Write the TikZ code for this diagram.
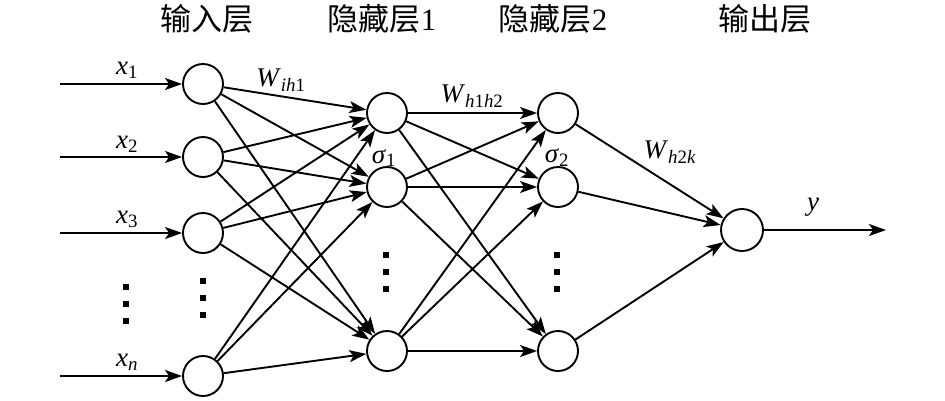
\documentclass[tikz,border=0pt]{standalone}
\usepackage{fontspec}
\setmainfont{Liberation Serif}
\newfontfamily\cjk{Noto Sans CJK SC}
\usetikzlibrary{arrows.meta}
\begin{document}
\begin{tikzpicture}[x=1pt,y=-1pt,
  neuron/.style={circle,draw,line width=1.9pt,minimum size=40pt,inner sep=0pt},
  conn/.style={line width=1.9pt,-{Stealth[length=17pt,width=12pt,inset=4pt]}},
  lbl/.style={font=\fontsize{27}{29}\selectfont,inner sep=0pt},
  ttl/.style={font=\fontsize{31}{33}\selectfont,inner sep=0pt},
  vdot/.style={fill=black}]
\useasboundingbox (0,0) rectangle (945,400);
% titles
\node[ttl] (t1) at (207,19) {\cjk 输入层};
\node[ttl] (t2) at (382,19) {{\cjk 隐藏层}1};
\node[ttl] (t3) at (553,19) {{\cjk 隐藏层}2};
\node[ttl] (t4) at (765,19) {\cjk 输出层};
% input neurons
\node[neuron] (i1) at (203,84) {};
\node[neuron] (i2) at (203,157) {};
\node[neuron] (i3) at (203,233) {};
\node[neuron] (i4) at (203,376) {};
% hidden 1
\node[neuron] (a1) at (387,113) {};
\node[neuron] (a2) at (387,187) {};
\node[neuron] (a3) at (387,351) {};
% hidden 2
\node[neuron] (b1) at (558,113) {};
\node[neuron] (b2) at (558,187) {};
\node[neuron] (b3) at (558,351) {};
% output
\node[neuron,minimum size=42pt] (o) at (742,230) {};
% input coordinates
\coordinate (s1) at (60,84);
\coordinate (s2) at (60,157);
\coordinate (s3) at (60,233);
\coordinate (s4) at (60,376);
\coordinate (e) at (886,230);
\foreach \k in {1,2,3,4} \draw[conn] (s\k) -- (i\k);
\draw[conn] (o) -- (e);
\foreach \k in {1,2,3,4} \foreach \m in {1,2,3} \draw[conn] (i\k) -- (a\m);
\foreach \k in {1,2,3} \foreach \m in {1,2,3} \draw[conn] (a\k) -- (b\m);
\foreach \k in {1,2,3} \draw[conn] (b\k) -- (o);
% labels
\node[lbl] (lx1) at (127,70) {\textit{x}\textsubscript{1}};
\node[lbl] (lx2) at (127,144) {\textit{x}\textsubscript{2}};
\node[lbl] (lx3) at (127,219) {\textit{x}\textsubscript{3}};
\node[lbl] (lxn) at (127,362) {\textit{x}\textsubscript{\textit{n}}};
\node[lbl] (lw1) at (281,80) {\textit{W}\textsubscript{\textit{ih}1}};
\node[lbl] (lw2) at (472,96) {\textit{W}\textsubscript{\textit{h}1\textit{h}2}};
\node[lbl] (lw3) at (670,152) {\textit{W}\textsubscript{\textit{h}2\textit{k}}};
\node[lbl] (ls1) at (384,158) {\textit{σ}\textsubscript{1}};
\node[lbl] (ls2) at (557,158) {\textit{σ}\textsubscript{2}};
\node[lbl] (ly) at (813,207) {\textit{y}};
% vertical dots
\foreach \x/\y in {126/287,203/281,386/255,557/255} {
  \foreach \d in {0,17,34} \fill[vdot] (\x-3,\y+\d-3) rectangle (\x+3,\y+\d+3);
}
\end{tikzpicture}
\end{document}
